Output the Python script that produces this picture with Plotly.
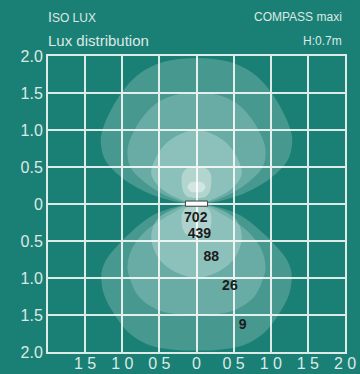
import plotly.graph_objects as go

# ---- data ----
y_tick_vals = [-2.0, -1.5, -1.0, -0.5, 0.0, 0.5, 1.0, 1.5, 2.0]
y_tick_text = ["2.0", "1.5", "1.0", "0.5", "0", "0.5", "1.0", "1.5", "2.0"]
x_tick_vals = [-1.5, -1.0, -0.5, 0.0, 0.5, 1.0, 1.5, 2.0]
x_tick_text = ["1 5", "1 0", "0 5", "0", "0 5", "1 0", "1 5", "2 0"]

# upper iso-lux outlines (outer -> inner)
up1_x = [0, -0.50, -0.90, -1.16, -1.25, -1.29, -1.26, -1.13, -0.95, -0.77, -0.54, -0.30, 0,
         0.30, 0.54, 0.77, 0.95, 1.13, 1.26, 1.29, 1.25, 1.16, 0.90, 0.50, 0]
up1_y = [0, 0.09, 0.28, 0.50, 0.64, 0.86, 1.02, 1.31, 1.58, 1.76, 1.89, 1.95, 1.97,
         1.95, 1.89, 1.76, 1.58, 1.31, 1.02, 0.86, 0.64, 0.50, 0.28, 0.09, 0]
up2_x = [0, -0.36, -0.68, -0.89, -0.93, -0.86, -0.72, -0.54, -0.30, 0,
         0.30, 0.54, 0.72, 0.86, 0.93, 0.89, 0.68, 0.36, 0]
up2_y = [0, 0.09, 0.28, 0.50, 0.73, 0.95, 1.18, 1.36, 1.47, 1.50,
         1.47, 1.36, 1.18, 0.95, 0.73, 0.50, 0.28, 0.09, 0]
up3_x = [0, -0.28, -0.50, -0.61, -0.54, -0.41, -0.23, 0, 0.23, 0.41, 0.54, 0.61, 0.50, 0.28, 0]
up3_y = [0, 0.09, 0.23, 0.41, 0.64, 0.82, 0.94, 1.0, 0.94, 0.82, 0.64, 0.41, 0.23, 0.09, 0]
up4_x = [0, -0.13, -0.19, -0.20, -0.17, -0.10, 0, 0.10, 0.17, 0.20, 0.19, 0.13, 0]
up4_y = [0.50, 0.48, 0.41, 0.29, 0.15, 0.09, 0.08, 0.09, 0.15, 0.29, 0.41, 0.48, 0.50]
up5_x = [0, -0.08, -0.12, -0.08, 0, 0.08, 0.12, 0.08, 0]
up5_y = [0.30, 0.29, 0.23, 0.17, 0.16, 0.17, 0.23, 0.29, 0.30]

# lower iso-lux outlines (outer -> inner)
lo1_x = [0, -0.54, -0.86, -1.08, -1.22, -1.28, -1.25, -1.10, -0.90, -0.63, -0.30, 0,
         0.30, 0.63, 0.90, 1.10, 1.25, 1.28, 1.22, 1.08, 0.86, 0.54, 0]
lo1_y = [0, -0.13, -0.36, -0.58, -0.76, -0.94, -1.21, -1.50, -1.75, -1.91, -1.97, -1.98,
         -1.97, -1.91, -1.75, -1.50, -1.21, -0.94, -0.76, -0.58, -0.36, -0.13, 0]
lo2_x = [0, -0.45, -0.72, -0.88, -0.93, -0.90, -0.77, -0.50, -0.25, 0,
         0.25, 0.50, 0.77, 0.90, 0.93, 0.88, 0.72, 0.45, 0]
lo2_y = [0, -0.20, -0.40, -0.63, -0.85, -1.00, -1.26, -1.44, -1.49, -1.50,
         -1.49, -1.44, -1.26, -1.00, -0.85, -0.63, -0.40, -0.20, 0]
lo3_x = [0, -0.36, -0.54, -0.61, -0.52, -0.32, 0, 0.32, 0.52, 0.61, 0.54, 0.36, 0]
lo3_y = [0, -0.09, -0.22, -0.45, -0.72, -0.90, -1.00, -0.90, -0.72, -0.45, -0.22, -0.09, 0]
lo4_x = [0, -0.13, -0.19, -0.20, -0.17, -0.10, 0, 0.10, 0.17, 0.20, 0.19, 0.13, 0]
lo4_y = [-0.02, -0.04, -0.12, -0.24, -0.37, -0.44, -0.46, -0.44, -0.37, -0.24, -0.12, -0.04, -0.02]

# luminaire symbol
lamp_x = [-0.15, 0.15, 0.15, -0.15, -0.15]
lamp_y = [-0.03, -0.03, 0.04, 0.04, -0.03]

# iso-lux values
label_x = [-0.01, 0.04, 0.20, 0.45, 0.62]
label_y = [-0.20, -0.415, -0.72, -1.12, -1.64]
label_text = ["702", "439", "88", "26", "9"]

BG = "#1a8075"
TXT = "#dde9e6"
FONT = "Liberation Sans, Arial, sans-serif"

fig = go.Figure()

fills = [
    (up1_x, up1_y, 0.20), (up2_x, up2_y, 0.19), (up3_x, up3_y, 0.24),
    (up4_x, up4_y, 0.33), (up5_x, up5_y, 0.40),
    (lo1_x, lo1_y, 0.20), (lo2_x, lo2_y, 0.19), (lo3_x, lo3_y, 0.24),
    (lo4_x, lo4_y, 0.30),
]
for xs, ys, a in fills:
    fig.add_trace(go.Scatter(
        x=xs, y=ys, mode="lines", fill="toself", line=dict(width=0, shape="spline", smoothing=1.0),
        fillcolor=f"rgba(255,255,255,{a})", hoverinfo="skip", showlegend=False))

fig.add_trace(go.Scatter(
    x=lamp_x, y=lamp_y, mode="lines", fill="toself", fillcolor="white",
    line=dict(color="#3a3a3a", width=1), hoverinfo="skip", showlegend=False))

fig.add_trace(go.Scatter(
    x=label_x, y=label_y, mode="text", text=label_text,
    textfont=dict(family=FONT, size=14, color="#1c1c1c", weight="bold"),
    hoverinfo="skip", showlegend=False))

axis_common = dict(
    showgrid=True, gridcolor="#dcebe8", gridwidth=2, automargin=False,
    zeroline=False, showline=True, linecolor="#dcebe8", linewidth=2, mirror=True,
    ticks="", tickfont=dict(family=FONT, size=16, color=TXT), fixedrange=True,
)

fig.update_layout(
    width=360, height=374, autosize=False,
    margin=dict(l=48, r=15, t=56, b=22, pad=0, autoexpand=False),
    paper_bgcolor=BG, plot_bgcolor=BG,
    xaxis=dict(range=[-2, 2], tickmode="array", tickvals=x_tick_vals, ticktext=x_tick_text,
               ticklabelstandoff=-4, **axis_common),
    yaxis=dict(range=[-2, 2], tickmode="array", tickvals=y_tick_vals, ticktext=y_tick_text, **axis_common),
    annotations=[
        dict(text="<span style='font-size:14px'>I</span>SO LUX", xref="paper", yref="paper",
             x=-0.008, y=1.132, xanchor="left", yanchor="middle", showarrow=False,
             font=dict(family=FONT, size=12, color=TXT)),
        dict(text="Lux distribution", xref="paper", yref="paper",
             x=-0.008, y=1.054, xanchor="left", yanchor="middle", showarrow=False,
             font=dict(family=FONT, size=15, color=TXT)),
        dict(text="COMPASS maxi", xref="paper", yref="paper",
             x=0.997, y=1.132, xanchor="right", yanchor="middle", showarrow=False,
             font=dict(family=FONT, size=12, color=TXT)),
        dict(text="H:0.7m", xref="paper", yref="paper",
             x=0.997, y=1.051, xanchor="right", yanchor="middle", showarrow=False,
             font=dict(family=FONT, size=12, color=TXT)),
    ],
)

fig.write_html(
    "out.html",
    config={"displayModeBar": False, "responsive": False},
    post_script="document.body.style.margin='0';document.body.style.background='%s';" % BG,
)
